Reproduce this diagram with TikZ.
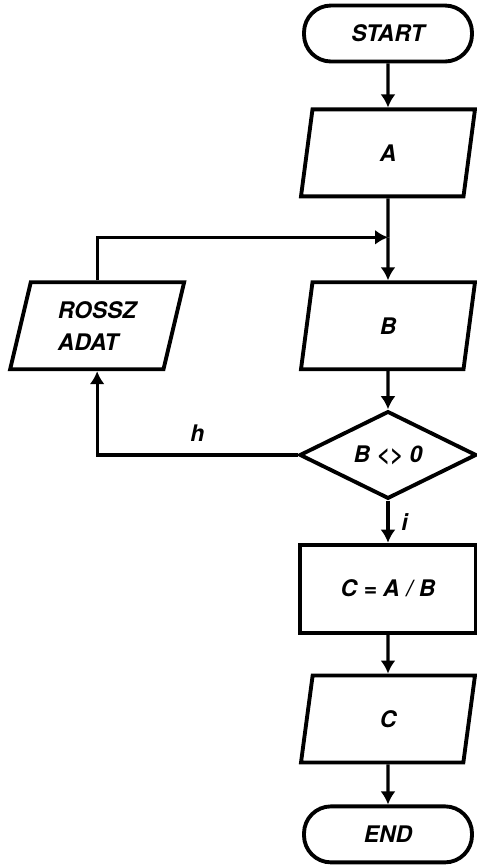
\documentclass[tikz,border=0pt]{standalone}
\usepackage{fontspec}
\setmainfont{TeX Gyre Heros}
\usetikzlibrary{shapes.geometric, arrows.meta, positioning}

\begin{document}
\begin{tikzpicture}[
      node distance=0.38cm,
      every node/.style={font=\fontsize{6.5}{9}\selectfont\bfseries\itshape},
      term/.style={rectangle, rounded corners=0.27cm, draw, line width=1.1pt, minimum width=1.68cm, minimum height=0.56cm},
      io/.style={trapezium, trapezium left angle=74, trapezium right angle=106, trapezium stretches body, draw, line width=1.1pt, minimum width=1.74cm, minimum height=0.87cm},
      proc/.style={rectangle, draw, line width=1.1pt, minimum width=1.76cm, minimum height=0.88cm},
      test/.style={diamond, draw, line width=1.1pt, minimum width=1.77cm, minimum height=0.84cm, inner sep=0pt},
      arrow/.style={line width=0.9pt, -{Latex[length=1.3mm,width=1.5mm]}}
    ]
    \useasboundingbox (0,0) rectangle (4.77,-8.65);
    \node [term] (start) at (3.88,-0.335) {START};
    \node [io, below=0.44cm of start] (a) {A};
    \coordinate [below=0.39cm of a] (join);
    \node [io, below=0.82cm of a] (b) {B};
    \node [io, align=left, left=1.29cm of b] (bad) {ROSSZ\\ADAT};
    \node [test, below=0.38cm of b] (check) {B <> 0};
    \node [proc, below=0.42cm of check] (calc) {C = A / B};
    \node [io, below=0.39cm of calc] (c) {C};
    \node [term, below=0.4cm of c] (end) {END};

    \draw [arrow] (start) -- (a);
    \draw [line width=0.9pt] (a) -- (join);
    \draw [arrow] (join) -- (b);
    \draw [arrow] (b) -- (check);
    \draw [arrow] (check) -- node [right] {i} (calc);
    \draw [arrow] (check.west) -| node [pos=0.25, above] {h} (bad.south);
    \draw [arrow] (bad.north) |- (join);
    \draw [arrow] (calc) -- (c);
    \draw [arrow] (c) -- (end);
  \end{tikzpicture}
\end{document}
